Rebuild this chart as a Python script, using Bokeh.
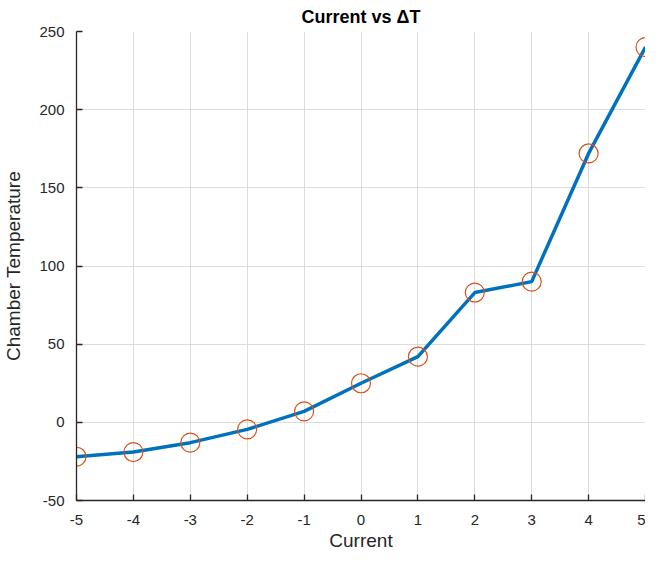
from bokeh.plotting import figure
from bokeh.models import Range1d, FixedTicker, Title
from bokeh.embed import file_html
from bokeh.resources import INLINE

current = [-5, -4, -3, -2, -1, 0, 1, 2, 3, 4, 5]
temperature = [-22, -19, -13, -4.5, 7, 25, 42, 83, 90, 172, 240]
x_ticks = [-5, -4, -3, -2, -1, 0, 1, 2, 3, 4, 5]
y_ticks = [-50, 0, 50, 100, 150, 200, 250]

FONT = "Liberation Sans"
AX = "#262626"

p = figure(width=645, height=550, output_backend="svg", toolbar_location=None,
           x_range=Range1d(-5, 5), y_range=Range1d(-50, 250),
           min_border_left=0, min_border_right=0, min_border_bottom=0, min_border_top=0)
p.title.text = "Current vs \u0394T"
p.title.align = "center"
p.title.text_font = FONT
p.title.text_font_size = "18px"
p.title.text_font_style = "bold"
p.title.text_color = "#000000"
p.title.offset = 0
p.title.standoff = 9

p.outline_line_color = None
p.background_fill_color = "white"

for ax, ticks in ((p.xaxis, x_ticks), (p.yaxis, y_ticks)):
    ax.ticker = FixedTicker(ticks=ticks)
    ax.major_label_overrides = {t: str(t) for t in ticks}
    ax.axis_line_color = AX
    ax.axis_line_width = 1.3
    ax.major_tick_line_color = AX
    ax.major_tick_line_width = 1.3
    ax.major_tick_in = 6
    ax.major_tick_out = 0
    ax.minor_tick_line_color = None
    ax.major_label_text_font = FONT
    ax.major_label_text_font_size = "15px"
    ax.major_label_text_color = AX
    ax.axis_label_text_font = FONT
    ax.axis_label_text_font_size = "19px"
    ax.axis_label_text_font_style = "normal"
    ax.axis_label_text_color = AX

p.yaxis.axis_label = "Chamber Temperature"
p.xaxis.major_label_standoff = 14
p.yaxis.major_label_standoff = 12
p.yaxis.axis_label_standoff = 12

xtitle = Title(text="Current", align="center", text_font=FONT, text_font_size="19px",
               text_font_style="normal", text_color=AX, standoff=0, offset=0)
p.add_layout(xtitle, "below")

p.grid.grid_line_color = "#dcdcdc"
p.grid.grid_line_width = 1
p.xgrid.ticker = FixedTicker(ticks=x_ticks)
p.ygrid.ticker = FixedTicker(ticks=y_ticks)

p.line(current, temperature, line_color="#0072BD", line_width=3.5)
p.scatter(current, temperature, marker="circle", size=19, fill_color=None,
          line_color="#D95319", line_width=1.2)

open("out.html", "w").write(file_html(p, INLINE))
